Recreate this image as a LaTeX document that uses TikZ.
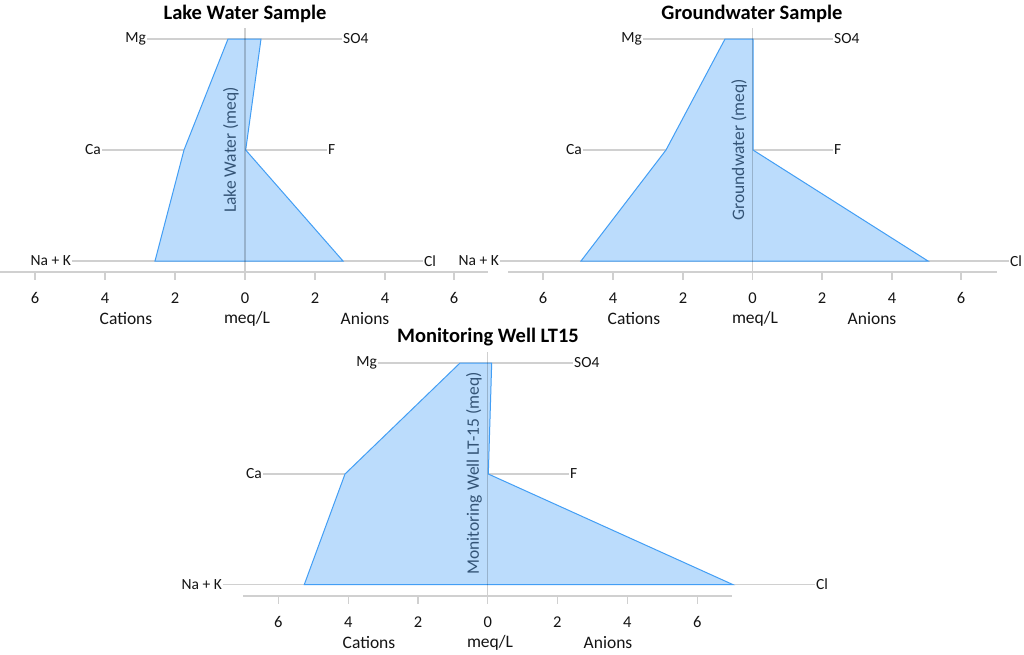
\documentclass[tikz,border=0pt]{standalone}
\usepackage{fontspec}
\setmainfont{Carlito}
\definecolor{gridgray}{RGB}{208,208,208}
\definecolor{axgray}{RGB}{208,208,208}
\definecolor{fillblue}{RGB}{187,220,252}
\definecolor{edgeblue}{RGB}{66,158,245}
\definecolor{txt}{RGB}{20,20,20}
\definecolor{rottxt}{RGB}{52,84,118}
\tikzset{
  ion/.style={font=\fontsize{15.5}{17}\selectfont, text=txt, inner sep=1pt},
  tlab/.style={font=\fontsize{16.5}{18}\selectfont, text=txt, inner sep=0pt},
  alab/.style={font=\fontsize{17.5}{20}\selectfont, text=txt, inner sep=0pt},
  ttl/.style={font=\bfseries\fontsize{20.5}{23}\selectfont, text=black, inner sep=0pt},
  rot/.style={font=\fontsize{17.5}{20}\selectfont, text=rottxt, rotate=90, inner sep=0pt},
  gline/.style={draw=gridgray, line width=1.3pt},
  axline/.style={draw=axgray, line width=1.3pt},
  vline/.style={draw=black, draw opacity=0.19, line width=1.3pt},
  stiff/.style={fill=fillblue, draw=edgeblue, line width=1pt, line join=miter},
}
\begin{document}
\begin{tikzpicture}[x=1pt,y=-1pt]
\useasboundingbox (0,0) rectangle (1024,654);
\fill[white] (0,0) rectangle (1024,654);

% ================= Chart 1: Lake Water =================
\node[ttl] (t1) at (245,14) {Lake Water Sample};
\coordinate (m1a) at (147,39);  \coordinate (m1b) at (342,39);
\coordinate (c1a) at (102,150); \coordinate (c1b) at (327,150);
\coordinate (n1a) at (72,261);  \coordinate (n1b) at (423,261);
\draw[gline] (m1a) -- (m1b);
\draw[gline] (c1a) -- (c1b);
\draw[gline] (n1a) -- (n1b);
\node[ion, anchor=east] (mg1) at (m1a) {Mg};
\node[ion, anchor=west] (so1) at (m1b) {SO4};
\node[ion, anchor=east] (ca1) at (c1a) {Ca};
\node[ion, anchor=west] (f1) at (c1b) {F};
\node[ion, anchor=east] (nk1) at (n1a) {Na + K};
\node[ion, anchor=west] (cl1) at (n1b) {Cl};
\coordinate (ax1a) at (0,272); \coordinate (ax1b) at (488,272);
\draw[axline] (ax1a) -- (ax1b);
\foreach \xx/\lab in {35/6,105/4,175/2,245/0,315/2,385/4,454/6}{
  \draw[axline] (\xx,272) -- (\xx,280);
  \node[tlab] at (\xx,298) {\lab};
}
\node[alab] (cat1) at (126,319) {Cations};
\node[alab] (meq1) at (247,319) {meq/L};
\node[alab] (an1) at (365,319) {Anions};
\draw[stiff] (228,39) -- (261,39) -- (245.7,150) -- (343,261) -- (155,261) -- (184,150) -- cycle;
\coordinate (v1a) at (245,28); \coordinate (v1b) at (245,271.4);
\draw[vline] (v1a) -- (v1b);
\node[rot] (r1) at (231,150) {Lake Water (meq)};

% ================= Chart 2: Groundwater =================
\node[ttl] (t2) at (752,14) {Groundwater Sample};
\coordinate (m2a) at (643,39);  \coordinate (m2b) at (833,39);
\coordinate (c2a) at (583,150); \coordinate (c2b) at (833,150);
\coordinate (n2a) at (500,261); \coordinate (n2b) at (1009,261);
\draw[gline] (m2a) -- (m2b);
\draw[gline] (c2a) -- (c2b);
\draw[gline] (n2a) -- (n2b);
\node[ion, anchor=east] (mg2) at (m2a) {Mg};
\node[ion, anchor=west] (so2) at (m2b) {SO4};
\node[ion, anchor=east] (ca2) at (c2a) {Ca};
\node[ion, anchor=west] (f2) at (c2b) {F};
\node[ion, anchor=east] (nk2) at (n2a) {Na + K};
\node[ion, anchor=west] (cl2) at (n2b) {Cl};
\coordinate (ax2a) at (508,272); \coordinate (ax2b) at (997,272);
\draw[axline] (ax2a) -- (ax2b);
\foreach \xx/\lab in {543/6,613/4,683/2,752.5/0,822/2,892/4,961/6}{
  \draw[axline] (\xx,272) -- (\xx,280);
  \node[tlab] at (\xx,298) {\lab};
}
\node[alab] (cat2) at (634,319) {Cations};
\node[alab] (meq2) at (755,319) {meq/L};
\node[alab] (an2) at (872,319) {Anions};
\draw[stiff] (725,39) -- (753,39) -- (753,150) -- (928,261) -- (581,261) -- (666,150) -- cycle;
\coordinate (v2a) at (752.5,28); \coordinate (v2b) at (752.5,271.4);
\draw[vline] (v2a) -- (v2b);
\node[rot] (r2) at (739,150) {Groundwater (meq)};

% ================= Chart 3: Monitoring Well =================
\node[ttl] (t3) at (488,337) {Monitoring Well LT15};
\coordinate (m3a) at (378,363);  \coordinate (m3b) at (573,363);
\coordinate (c3a) at (263,474);  \coordinate (c3b) at (569,474);
\coordinate (n3a) at (223,584.5);  \coordinate (n3b) at (815,584.5);
\draw[gline] (m3a) -- (m3b);
\draw[gline] (c3a) -- (c3b);
\draw[gline] (n3a) -- (n3b);
\node[ion, anchor=east] (mg3) at (m3a) {Mg};
\node[ion, anchor=west] (so3) at (m3b) {SO4};
\node[ion, anchor=east] (ca3) at (c3a) {Ca};
\node[ion, anchor=west] (f3) at (c3b) {F};
\node[ion, anchor=east] (nk3) at (n3a) {Na + K};
\node[ion, anchor=west] (cl3) at (n3b) {Cl};
\coordinate (ax3a) at (243,596); \coordinate (ax3b) at (732,596);
\draw[axline] (ax3a) -- (ax3b);
\foreach \xx/\lab in {278.3/6,348.3/4,418/2,487.7/0,557.3/2,627.3/4,697.3/6}{
  \draw[axline] (\xx,596) -- (\xx,604);
  \node[tlab] at (\xx,622) {\lab};
}
\node[alab] (cat3) at (369,643) {Cations};
\node[alab] (meq3) at (490,643) {meq/L};
\node[alab] (an3) at (608,643) {Anions};
\draw[stiff] (460,363) -- (491.7,363) -- (488.3,474) -- (732.7,584.5) -- (304.3,584.5) -- (345,474) -- cycle;
\coordinate (v3a) at (487.7,352); \coordinate (v3b) at (487.7,595.4);
\draw[vline] (v3a) -- (v3b);
\node[rot] (r3) at (474,473.5) {Monitoring Well LT-15 (meq)};
\end{tikzpicture}
\end{document}
